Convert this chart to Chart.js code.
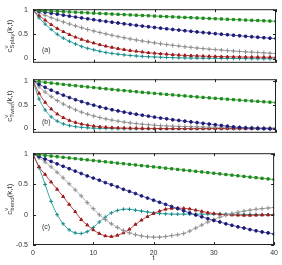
<!DOCTYPE html>
<html><head><meta charset="utf-8">
<script src="https://cdn.jsdelivr.net/npm/chart.js@4/dist/chart.umd.min.js"></script>
<style>
html,body{margin:0;padding:0;background:#fff;}
#wrap{position:relative;width:282px;height:265px;overflow:hidden;background:#fff;}
canvas{position:absolute;left:0;}
</style></head><body>
<div id="wrap">
<canvas id="ca" width="282" height="72" style="top:0px"></canvas>
<canvas id="cb" width="282" height="72" style="top:70px"></canvas>
<canvas id="cc" width="282" height="121" style="top:144px"></canvas>
</div>
<script>
// time lags
const tVals = [0,1,2,3,4,5,6,7,8,9,10,11,12,13,14,15,16,17,18,19,20,21,22,23,24,25,26,27,28,29,30,31,32,33,34,35,36,37,38,39,40];
const xTicks = [0,10,20,30,40];
const yTicksAB = [0,0.5,1];
const yTicksC = [-0.5,0,0.5,1];

// panel (a) splay
const splayGreen = [1.000,0.993,0.987,0.980,0.974,0.968,0.961,0.955,0.949,0.943,0.936,0.930,0.924,0.918,0.912,0.906,0.900,0.894,0.888,0.883,0.877,0.871,0.865,0.860,0.854,0.848,0.843,0.837,0.832,0.826,0.821,0.816,0.810,0.805,0.800,0.794,0.789,0.784,0.779,0.774,0.769];
const splayNavy = [1.000,0.978,0.957,0.936,0.915,0.895,0.875,0.856,0.837,0.819,0.801,0.783,0.766,0.749,0.733,0.717,0.701,0.685,0.670,0.656,0.641,0.627,0.613,0.600,0.587,0.574,0.561,0.549,0.537,0.525,0.513,0.502,0.491,0.480,0.470,0.459,0.449,0.439,0.430,0.420,0.411];
const splayGray = [1.000,0.945,0.893,0.844,0.798,0.754,0.713,0.673,0.636,0.601,0.568,0.537,0.508,0.480,0.453,0.429,0.405,0.383,0.362,0.342,0.323,0.305,0.288,0.273,0.258,0.243,0.230,0.217,0.205,0.194,0.184,0.174,0.164,0.155,0.146,0.138,0.131,0.124,0.117,0.110,0.104];
const splayRed = [1.000,0.890,0.790,0.700,0.620,0.555,0.495,0.440,0.395,0.355,0.320,0.285,0.255,0.230,0.205,0.185,0.165,0.150,0.135,0.120,0.110,0.100,0.090,0.080,0.072,0.065,0.060,0.055,0.050,0.046,0.043,0.040,0.037,0.035,0.033,0.031,0.030,0.029,0.028,0.027,0.026];
const splayTeal = [1.000,0.840,0.710,0.600,0.500,0.420,0.355,0.300,0.250,0.210,0.180,0.150,0.125,0.105,0.090,0.075,0.063,0.053,0.045,0.038,0.032,0.027,0.022,0.018,0.015,0.012,0.010,0.008,0.006,0.005,0.004,0.003,0.002,0.001,0.000,-0.002,-0.003,-0.004,-0.005,-0.005,-0.006];

// panel (b) twist
const twistGreen = [1.000,0.985,0.970,0.956,0.941,0.927,0.913,0.899,0.886,0.873,0.860,0.847,0.834,0.821,0.809,0.797,0.785,0.773,0.761,0.750,0.739,0.727,0.717,0.706,0.695,0.685,0.674,0.664,0.654,0.644,0.635,0.625,0.616,0.606,0.597,0.588,0.579,0.571,0.562,0.554,0.545];
const twistNavy = [1.000,0.930,0.865,0.805,0.750,0.700,0.650,0.605,0.565,0.525,0.490,0.455,0.425,0.395,0.370,0.345,0.320,0.300,0.280,0.260,0.240,0.220,0.205,0.185,0.170,0.155,0.140,0.125,0.110,0.095,0.080,0.065,0.050,0.035,0.025,0.015,0.010,0.005,0.000,-0.005,-0.010];
const twistGray = [1.000,0.875,0.766,0.670,0.587,0.513,0.449,0.393,0.344,0.301,0.264,0.231,0.202,0.177,0.155,0.135,0.118,0.104,0.091,0.080,0.070,0.061,0.055,0.050,0.046,0.042,0.039,0.036,0.033,0.030,0.028,0.026,0.024,0.022,0.020,0.019,0.018,0.017,0.016,0.015,0.014];
const twistRed = [1.000,0.740,0.550,0.410,0.305,0.230,0.170,0.128,0.095,0.070,0.052,0.038,0.028,0.020,0.015,0.011,0.008,0.006,0.004,0.003,0.002,0.001,0.000,0.000,0.000,0.000,0.000,0.000,0.000,0.000,0.000,0.000,0.000,0.000,0.000,0.000,0.000,0.000,0.000,0.000,0.000];
const twistTeal = [1.000,0.620,0.390,0.245,0.155,0.098,0.062,0.040,0.025,0.015,0.008,0.004,0.001,-0.001,-0.002,-0.003,-0.003,-0.003,-0.003,-0.003,-0.003,-0.003,-0.003,-0.003,-0.003,-0.003,-0.003,-0.003,-0.003,-0.003,-0.003,-0.003,-0.003,-0.003,-0.003,-0.003,-0.003,-0.003,-0.003,-0.003,-0.003];

// panel (c) bend
const bendGreen = [1.000,0.990,0.979,0.969,0.958,0.948,0.937,0.927,0.916,0.906,0.895,0.885,0.874,0.864,0.853,0.843,0.832,0.822,0.811,0.801,0.790,0.780,0.769,0.759,0.748,0.738,0.727,0.717,0.706,0.696,0.685,0.675,0.664,0.654,0.643,0.633,0.622,0.612,0.601,0.591,0.580];
const bendNavy = [1.000,0.960,0.920,0.880,0.840,0.800,0.760,0.720,0.680,0.640,0.605,0.570,0.530,0.495,0.460,0.420,0.385,0.350,0.310,0.275,0.240,0.205,0.170,0.135,0.100,0.065,0.030,-0.005,-0.035,-0.065,-0.095,-0.120,-0.150,-0.175,-0.200,-0.220,-0.245,-0.265,-0.285,-0.300,-0.320];
const bendGray = [1.000,0.940,0.870,0.790,0.700,0.610,0.510,0.410,0.310,0.200,0.100,0.000,-0.080,-0.150,-0.210,-0.260,-0.300,-0.330,-0.350,-0.365,-0.370,-0.370,-0.360,-0.345,-0.330,-0.310,-0.270,-0.220,-0.170,-0.120,-0.080,-0.040,-0.010,0.020,0.040,0.060,0.075,0.090,0.100,0.110,0.120];
const bendRed = [1.000,0.790,0.665,0.540,0.420,0.300,0.170,0.050,-0.080,-0.170,-0.250,-0.310,-0.350,-0.360,-0.340,-0.300,-0.240,-0.160,-0.090,-0.030,0.020,0.060,0.090,0.105,0.110,0.105,0.095,0.075,0.055,0.035,0.020,0.008,0.000,-0.005,-0.008,-0.010,-0.010,-0.008,-0.005,-0.003,0.000];
const bendTeal = [1.000,0.780,0.500,0.220,0.000,-0.150,-0.250,-0.300,-0.310,-0.280,-0.210,-0.120,-0.040,0.030,0.070,0.090,0.090,0.075,0.060,0.045,0.030,0.020,0.015,0.010,0.010,0.010,0.010,0.010,0.010,0.010,0.010,0.010,0.010,0.008,0.006,0.005,0.004,0.003,0.002,0.001,0.000];

const FONT = {family:'"Liberation Sans", Arial, sans-serif', size:7};
const TXT = '#333';

const styles = [
  {c:'#1e8c1e', l:'#2f9a2f', p:'rect', r:1.6},
  {c:'#1c1c78', l:'#4c4ca6', p:'circle', r:1.4},
  {c:'#8c8c8c', l:'#a4a4a4', p:'cross', r:2.2},
  {c:'#9c1c1c', l:'#b23434', p:'triangle', r:1.7},
  {c:'#168a8a', l:'#2a9c9c', p:'cross', r:1.9}
];

function mk(series){
  return series.map((vals,k)=>({
    data: vals.map((v,i)=>({x:tVals[i], y:v})),
    borderColor: styles[k].l,
    backgroundColor: styles[k].c,
    pointBorderColor: styles[k].c,
    pointBackgroundColor: styles[k].c,
    pointStyle: styles[k].p,
    pointRadius: styles[k].r,
    pointBorderWidth: 1,
    borderWidth: 0.9,
    tension: 0.35,
    fill:false
  }));
}

const framePlugin = {
  id:'frame',
  afterDatasetsDraw(chart, args, opts){
    const {ctx, chartArea:a} = chart;
    const xs = chart.scales.x, ys = chart.scales.y;
    ctx.save();
    ctx.strokeStyle = '#222';
    ctx.lineWidth = 1;
    ctx.strokeRect(a.left+0.5, a.top+0.5, a.right-a.left-1, a.bottom-a.top-1);
    ctx.beginPath();
    for (const v of xTicks){
      const px = Math.round(xs.getPixelForValue(v))+0.5;
      ctx.moveTo(px, a.bottom); ctx.lineTo(px, a.bottom-3);
      ctx.moveTo(px, a.top); ctx.lineTo(px, a.top+3);
    }
    for (const v of opts.yt){
      const py = Math.round(ys.getPixelForValue(v))+0.5;
      ctx.moveTo(a.left, py); ctx.lineTo(a.left+3, py);
      ctx.moveTo(a.right, py); ctx.lineTo(a.right-3, py);
    }
    ctx.stroke();
    ctx.fillStyle = TXT;
    ctx.font = '7px "Liberation Sans", Arial, sans-serif';
    ctx.textAlign = 'left';
    ctx.textBaseline = 'middle';
    ctx.fillText(opts.label, a.left + 9, a.bottom - opts.lab);
    ctx.restore();
  }
};

const titlePlugin = {
  id:'ytitle',
  afterDraw(chart, args, opts){
    const {ctx, chartArea:a} = chart;
    const cy = (a.top + a.bottom)/2;
    ctx.save();
    ctx.translate(9, cy);
    ctx.rotate(-Math.PI/2);
    ctx.fillStyle = TXT;
    ctx.textBaseline = 'alphabetic';
    const big = '8px "Liberation Sans", Arial, sans-serif';
    const sm = '6px "Liberation Sans", Arial, sans-serif';
    ctx.font = big; const wc = ctx.measureText('c').width; const wk = ctx.measureText('(k,t)').width;
    ctx.font = sm; const ws = ctx.measureText(opts.sub).width; const wv = ctx.measureText('v').width;
    const total = wc + Math.max(ws, wv) + wk;
    let x = -total/2;
    const base = 3;
    ctx.font = big; ctx.fillText('c', x, base); x += wc;
    ctx.font = sm; ctx.fillText('v', x, base-4); ctx.fillText(opts.sub, x, base+2);
    x += Math.max(ws, wv);
    ctx.font = big; ctx.fillText('(k,t)', x, base);
    ctx.restore();
  }
};

function makeChart(id, series, yMin, yMax, yt, pad, showX, sub, label, lab){
  new Chart(document.getElementById(id), {
    type:'line',
    data:{datasets: mk(series)},
    options:{
      responsive:false, animation:false,
      layout:{padding:pad},
      plugins:{legend:{display:false}, tooltip:{enabled:false},
        frame:{yt:yt, label:label, lab:lab}, ytitle:{sub:sub}},
      scales:{
        x:{type:'linear', min:0, max:40, display:showX,
           grid:{display:false, drawTicks:false}, border:{display:false},
           afterBuildTicks: s=>{ s.ticks = xTicks.map(v=>({value:v})); },
           ticks:{font:FONT, color:TXT, padding:4, maxRotation:0, autoSkip:false},
           title:{display:showX, text:'t', font:FONT, color:TXT, padding:{top:0,bottom:3}},
           afterFit: s=>{ s.height = showX ? 20 : 0; }},
        y:{type:'linear', min:yMin, max:yMax,
           grid:{display:false, drawTicks:false}, border:{display:false},
           afterBuildTicks: s=>{ s.ticks = yt.map(v=>({value:v})); },
           ticks:{font:FONT, color:TXT, padding:5, autoSkip:false, callback:v=>String(v)},
           afterFit: s=>{ s.width = 33; }}
      }
    },
    plugins:[framePlugin, titlePlugin]
  });
}

makeChart('ca', [splayGreen, splayNavy, splayGray, splayRed, splayTeal], -0.088, 1.018, yTicksAB, {left:0,right:6,top:3,bottom:6}, false, 'Splay', '(a)', 13);
makeChart('cb', [twistGreen, twistNavy, twistGray, twistRed, twistTeal], -0.089, 1.036, yTicksAB, {left:0,right:6,top:6,bottom:3}, false, 'Twist', '(b)', 11);
makeChart('cc', [bendGreen, bendNavy, bendGray, bendRed, bendTeal], -0.5, 1.016, yTicksC, {left:0,right:6,top:6,bottom:0}, true, 'bend', '(c)', 18);
</script>
</body></html>
